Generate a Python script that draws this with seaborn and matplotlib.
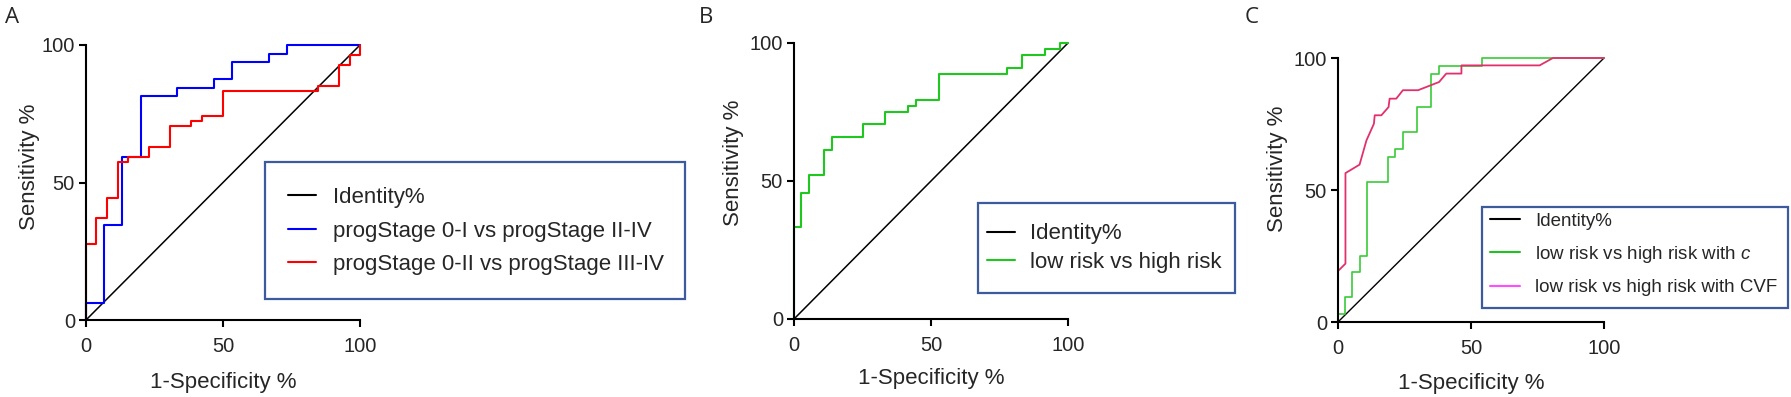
import matplotlib
matplotlib.use("Agg")
import matplotlib.pyplot as plt
import seaborn as sns
import pandas as pd
from matplotlib.lines import Line2D
from matplotlib.patches import Rectangle

# ROC curves (1-Specificity %, Sensitivity %)
# step curves: each point is the top of a vertical step
a_blue_fpr = [0, 0, 6.7, 13.3, 20, 33.3, 46.7, 53.3, 66.7, 73.3, 100]
a_blue_tpr = [0, 6.3, 34.4, 59.4, 81.3, 84.4, 87.5, 93.8, 96.9, 100, 100]
a_red_fpr = [0, 0, 3.8, 7.7, 11.5, 15.4, 23.1, 30.8, 38.5, 42.3, 50, 84.6, 92.3, 96.2, 100]
a_red_tpr = [0, 27.8, 37, 44.4, 57.4, 59.3, 63, 70.4, 72.2, 74.1, 83.3, 85.2, 92.6, 96.3, 100]

b_green_fpr = [0, 0, 2.7, 5.4, 11.1, 13.9, 25, 33.3, 41.7, 44.4, 52.8, 77.8, 83.3, 91.7, 97.2, 100]
b_green_tpr = [0, 33.3, 45.5, 52.3, 61.4, 65.9, 70.5, 75, 77.3, 79.5, 88.6, 90.9, 95.5, 97.7, 100, 100]

c_green_fpr = [0, 0, 2.7, 5.4, 8.1, 10.8, 18.9, 21.6, 24.3, 29.7, 35.1, 37.8, 54.1, 100]
c_green_tpr = [0, 3.1, 9.4, 18.8, 25, 53.1, 62.5, 65.6, 71.9, 81.3, 93.8, 96.9, 100, 100]
# smoothed curve (plain polyline)
c_cvf_fpr = [0, 0, 2.8, 2.8, 8.1, 10.7, 13.5, 13.8, 16.3, 19.0, 19.4, 21.9, 24.4, 30.1,
             38.0, 40.7, 46.4, 46.4, 75.8, 80.8, 100]
c_cvf_tpr = [0, 19.3, 22.1, 56.4, 59.6, 68.8, 75.1, 78.3, 78.3, 81.4, 84.6, 84.6, 87.8, 87.8,
             90.9, 94.1, 94.1, 97.2, 97.2, 100, 100]

identity = [0, 100]

labels_a = ["Identity%", "progStage 0-I vs progStage II-IV", "progStage 0-II vs progStage III-IV"]
labels_b = ["Identity%", "low risk vs high risk"]
labels_c = ["Identity%", "low risk vs high risk with $\\mathit{c}$", "low risk vs high risk with CVF"]

sns.set_style("ticks")
plt.rcParams['font.family'] = ['Liberation Sans', 'DejaVu Sans']
plt.rcParams['mathtext.fontset'] = 'custom'
plt.rcParams['mathtext.it'] = 'Liberation Sans:italic'
plt.rcParams['mathtext.rm'] = 'Liberation Sans'

W, H = 1791, 397
fig = plt.figure(figsize=(W / 100, H / 100), dpi=100)


def px_axes(left, top, right, bottom):
    return fig.add_axes([left / W, 1 - bottom / H, (right - left) / W, (bottom - top) / H])


def curve(ax, x, y, color, lw, step=True):
    df = pd.DataFrame({"fpr": x, "tpr": y})
    kw = dict(drawstyle="steps-post") if step else {}
    sns.lineplot(data=df, x="fpr", y="tpr", ax=ax, color=color, lw=lw, estimator=None,
                 sort=False, clip_on=False, **kw)


def style(ax, xlab_y, ylab_x, ylab_y):
    ax.set_xlim(0, 100)
    ax.set_ylim(0, 100)
    ax.set_xticks([0, 50, 100])
    ax.set_yticks([0, 50, 100])
    sns.despine(ax=ax)
    for s in ["left", "bottom"]:
        ax.spines[s].set_linewidth(1.5)
        ax.spines[s].set_color("black")
    ax.tick_params(axis="both", length=5, width=1.5, labelsize=14.5, color="black")
    ax.tick_params(axis="x", pad=7)
    ax.tick_params(axis="y", pad=3)
    ax.set_xlabel("1-Specificity %", fontsize=16, va="center")
    ax.set_ylabel("Sensitivity %", fontsize=16, va="center")
    ax.xaxis.set_label_coords(0.5, xlab_y)
    ax.yaxis.set_label_coords(ylab_x, ylab_y)


def legend_box(ax, handles, labels, box, hx, cy, fs, hl, htp, ls):
    x0, y0, x1, y1 = box
    fig.add_artist(Rectangle((x0 / W, 1 - y1 / H), (x1 - x0) / W, (y1 - y0) / H,
                             transform=fig.transFigure, fill=False, ec="#3b5b9c", lw=1.6))
    ax.legend(handles, labels, loc="center left", bbox_to_anchor=(hx / W, 1 - cy / H),
              bbox_transform=fig.transFigure, frameon=False, fontsize=fs, borderpad=0,
              borderaxespad=0, handlelength=hl, handletextpad=htp, labelspacing=ls)


# Panel A
axA = px_axes(86, 45, 360, 320)
curve(axA, identity, identity, "black", 1.1, step=False)
curve(axA, a_blue_fpr, a_blue_tpr, "#0000ff", 1.5)
curve(axA, a_red_fpr, a_red_tpr, "#ff0000", 1.5)
style(axA, -0.229, -0.208, 0.556)
hA = [Line2D([], [], color=c, lw=1.5) for c in ["black", "#0000ff", "#ff0000"]]
legend_box(axA, hA, labels_a, (265, 162, 685, 299), 288, 231, 16, 1.26, 0.77, 0.56)

# Panel B
axB = px_axes(794, 43, 1068, 319)
curve(axB, identity, identity, "black", 1.1, step=False)
curve(axB, b_green_fpr, b_green_tpr, "#1ec81e", 1.5)
style(axB, -0.214, -0.219, 0.565)
hB = [Line2D([], [], color=c, lw=1.5) for c in ["black", "#1ec81e"]]
legend_box(axB, hB, labels_b, (978, 203, 1235, 293), 986.5, 248, 16, 1.26, 0.72, 0.32)

# Panel C
axC = px_axes(1338, 58, 1604, 322)
curve(axC, identity, identity, "black", 1.0, step=False)
curve(axC, c_green_fpr, c_green_tpr, "#38cc38", 1.2)
curve(axC, c_cvf_fpr, c_cvf_tpr, "#e3306c", 1.3, step=False)
style(axC, -0.232, -0.226, 0.58)
hC = [Line2D([], [], color=c, lw=1.5) for c in ["black", "#22c022", "#ff4dff"]]
legend_box(axC, hC, labels_c, (1482, 207, 1788, 308), 1490.4, 254.5, 13.5, 1.6, 0.77, 0.75)

# panel letters
for x, lab in [(5, "A"), (699, "B"), (1245, "C")]:
    fig.text(x / W, 1 - 7 / H, lab, fontsize=16, family=["Open Sans", "DejaVu Sans"],
             ha="left", va="top")

fig.savefig("out.png", dpi=100)
